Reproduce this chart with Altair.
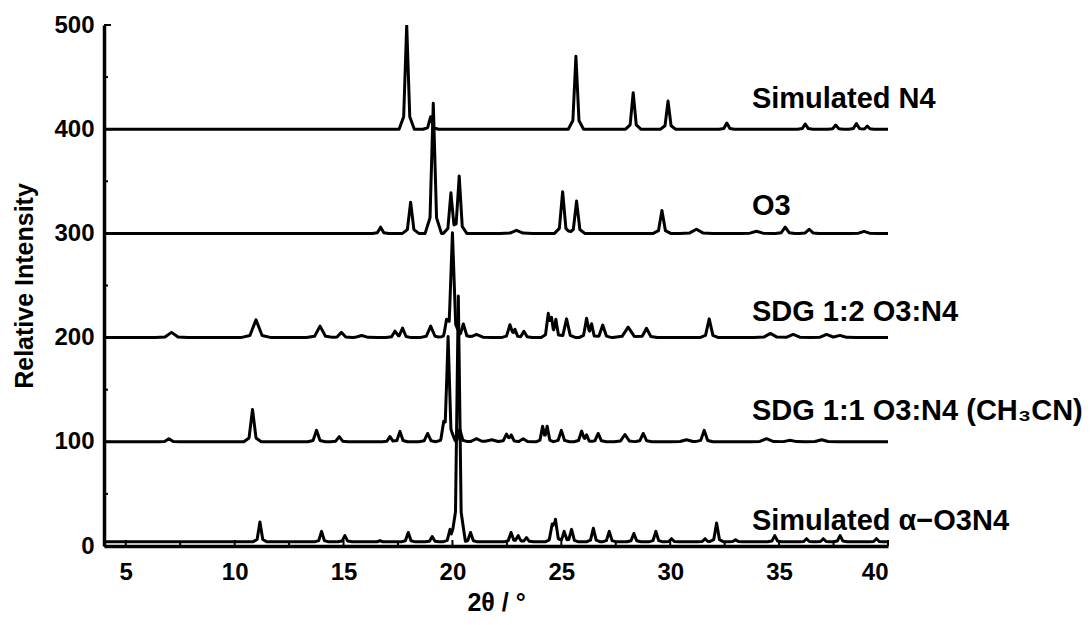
import altair as alt
import pandas as pd

# ---------------- data ----------------
X_MIN, X_MAX = 4, 40

series_names = ["Simulated N4", "O3", "SDG 1:2 O3:N4",
                "SDG 1:1 O3:N4 (CH\u2083CN)", "Simulated \u03b1\u2212O3N4"]
series_offsets = [400, 300, 200, 100, 4]

# Simulated N4 (offset 400)
n4_pos = [17.9, 19.0, 25.67, 28.3, 29.9, 32.6, 36.2, 37.6, 38.55, 39.05]
n4_hgt = [100, 12, 70, 35, 27, 6, 5, 4, 5.5, 3]
n4_wid = [0.14, 0.14, 0.14, 0.14, 0.14, 0.14, 0.14, 0.14, 0.14, 0.12]

# O3 (offset 300)
o3_pos = [16.7, 18.08, 19.12, 19.93, 20.31, 22.94, 25.06, 25.7, 29.62,
          31.2, 33.96, 35.28, 36.38, 38.9]
o3_hgt = [6, 30, 125, 39, 55, 3, 40, 31, 22, 4, 2, 6, 4, 2]
o3_wid = [0.15, 0.15, 0.15, 0.14, 0.14, 0.3, 0.15, 0.15, 0.16, 0.3, 0.3,
          0.18, 0.18, 0.25]

# SDG 1:2 O3:N4 (offset 200)
sdg12_pos = [7.1, 10.98, 13.92, 14.9, 15.83, 17.36, 17.71, 19.0, 19.73,
             20.0, 20.5, 21.1, 22.64, 22.87, 23.28, 24.4, 24.55, 24.75,
             25.24, 26.16, 26.39, 26.9, 28.07, 28.91, 31.79, 34.6, 35.65,
             37.18, 37.8]
sdg12_hgt = [5, 17, 11, 5, 2, 6, 9, 11, 12, 100, 13, 3, 12, 7, 6, 22, 16,
             17, 18, 18, 12, 12, 10, 9, 18, 4, 3, 3, 2]
sdg12_wid = [0.3, 0.28, 0.25, 0.2, 0.3, 0.16, 0.16, 0.2, 0.15, 0.15, 0.16,
             0.3, 0.16, 0.12, 0.15, 0.13, 0.1, 0.12, 0.17, 0.14, 0.12, 0.17,
             0.28, 0.2, 0.17, 0.3, 0.3, 0.3, 0.3]

# SDG 1:1 O3:N4 (CH3CN) (offset 100)
sdg11_pos = [6.98, 10.82, 13.76, 14.8, 17.13, 17.59, 18.86, 19.6, 19.8,
             20.34, 21.1, 21.8, 22.48, 22.7, 23.25, 24.14, 24.35, 25.0,
             25.93, 26.16, 26.69, 27.92, 28.76, 30.75, 31.56, 34.42, 35.5,
             36.95]
sdg11_hgt = [3, 31, 11, 5, 5, 10, 8, 12, 100, 12, 3, 2, 7, 6, 3, 14, 14,
             11, 10, 6, 8, 7, 8, 2, 11, 3, 1.5, 2]
sdg11_wid = [0.2, 0.16, 0.16, 0.16, 0.14, 0.14, 0.16, 0.15, 0.13, 0.14,
             0.25, 0.3, 0.15, 0.13, 0.2, 0.12, 0.12, 0.15, 0.14, 0.12,
             0.15, 0.2, 0.16, 0.3, 0.16, 0.3, 0.3, 0.3]

# Simulated alpha-O3N4 (offset 4)
alpha_pos = [11.16, 13.99, 15.06, 16.67, 17.97, 19.07, 19.89, 20.27, 20.83,
             22.69, 23.02, 23.4, 24.58, 24.73, 25.13, 25.47, 26.47, 27.2,
             28.33, 29.34, 30.06, 31.6, 32.13, 33.0, 34.8, 36.26, 37.03,
             37.8, 39.47]
alpha_hgt = [19, 10, 6, 1, 9, 5, 12, 236, 9, 9, 6, 4, 15, 20, 10, 12, 13,
             10, 8, 10, 3, 3, 18, 2, 6, 3, 3, 6, 3]
alpha_wid = [0.13] * 29

# axis ticks (drawn inward)
x_major_ticks = [5, 10, 15, 20, 25, 30, 35, 40]
x_minor_ticks = [7.5, 12.5, 17.5, 22.5, 27.5, 32.5, 37.5]
y_major_ticks = [0, 100, 200, 300, 400, 500]
y_minor_ticks = [50, 150, 250, 350, 450]

label_x = [33.75, 33.75, 33.75, 33.75, 33.75]
label_y = [429, 326, 224.5, 129.5, 24]

# ---------------- build the traces ----------------
peak_sets = [
    (n4_pos, n4_hgt, n4_wid),
    (o3_pos, o3_hgt, o3_wid),
    (sdg12_pos, sdg12_hgt, sdg12_wid),
    (sdg11_pos, sdg11_hgt, sdg11_wid),
    (alpha_pos, alpha_hgt, alpha_wid),
]


def trace(name, offset, pos, hgt, wid):
    xs = {float(X_MIN), float(X_MAX)}
    for p, w in zip(pos, wid):
        for k in (-2.5, -1.0, 0.0, 1.0, 2.5):
            xs.add(round(p + k * w, 5))
    xs = sorted(x for x in xs if X_MIN <= x <= X_MAX)
    rows = []
    for i, x in enumerate(xs):
        y = offset
        for p, h, w in zip(pos, hgt, wid):
            d = abs(x - p)
            y += 0.8 * h * max(0.0, 1 - d / w) + 0.2 * h * max(0.0, 1 - d / (2.5 * w))
        rows.append({"series": name, "x": x, "y": y, "i": i})
    return rows


rows = []
for name, off, (p, h, w) in zip(series_names, series_offsets, peak_sets):
    rows += trace(name, off, p, h, w)
df = pd.DataFrame(rows)

labels = pd.DataFrame({"x": label_x, "y": label_y, "text": series_names})

W, H = 784, 521
FONT = "Liberation Sans"

xscale = alt.Scale(domain=[X_MIN, X_MAX], nice=False, zero=False)
yscale = alt.Scale(domain=[0, 500], nice=False)

lines = alt.Chart(df).mark_line(
    color="black", strokeWidth=3, strokeJoin="round", clip=True
).encode(
    x=alt.X("x:Q", scale=xscale,
            axis=alt.Axis(values=x_major_ticks, title="2\u03b8 / \u00b0",
                          format="d")),
    y=alt.Y("y:Q", scale=yscale,
            axis=alt.Axis(values=y_major_ticks, title="Relative Intensity",
                          format="d")),
    detail="series:N",
    order="i:Q",
)

text = alt.Chart(labels).mark_text(
    align="left", baseline="middle", font=FONT, fontWeight="bold",
    fontSize=29, color="black"
).encode(x=alt.X("x:Q", scale=xscale), y=alt.Y("y:Q", scale=yscale),
         text="text:N")

xt_major = alt.Chart(pd.DataFrame({"v": x_major_ticks})).mark_rule(
    color="black", strokeWidth=2).encode(
    x=alt.X("v:Q", scale=xscale), y=alt.value(H), y2=alt.value(H - 6))
xt_minor = alt.Chart(pd.DataFrame({"v": x_minor_ticks})).mark_rule(
    color="black", strokeWidth=2).encode(
    x=alt.X("v:Q", scale=xscale), y=alt.value(H), y2=alt.value(H - 4))
yt_major = alt.Chart(pd.DataFrame({"v": y_major_ticks})).mark_rule(
    color="black", strokeWidth=2).encode(
    y=alt.Y("v:Q", scale=yscale), x=alt.value(0), x2=alt.value(7))
yt_minor = alt.Chart(pd.DataFrame({"v": y_minor_ticks})).mark_rule(
    color="black", strokeWidth=2).encode(
    y=alt.Y("v:Q", scale=yscale), x=alt.value(0), x2=alt.value(4))

chart = alt.layer(lines, xt_major, xt_minor, yt_major, yt_minor, text).properties(
    width=W, height=H,
    autosize=alt.AutoSizeParams(type="none"),
    padding={"left": 96, "top": 17, "right": 196, "bottom": 70},
).configure_view(stroke=None).configure_axis(
    grid=False, ticks=False, tickSize=0,
    domainColor="black", domainWidth=3.5,
    labelFont=FONT, labelFontWeight="bold", labelFontSize=24, labelColor="black",
    titleFont=FONT, titleFontWeight="bold", titleFontSize=25, titleColor="black",
).configure_axisX(labelPadding=14, titlePadding=6).configure_axisY(
    labelPadding=10, titlePadding=16)

chart.save("out.html", embed_options={"renderer": "svg", "actions": False})
